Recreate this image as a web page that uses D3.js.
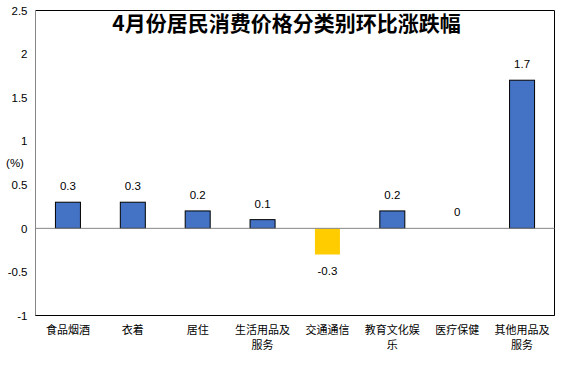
<!DOCTYPE html>
<html><head><meta charset="utf-8">
<script src="https://cdn.jsdelivr.net/npm/d3@7/dist/d3.min.js"></script>
<style>body{margin:0;background:#fff}svg{display:block}</style>
</head><body>
<script>
const categories = ["食品烟酒","衣着","居住","生活用品及服务","交通通信","教育文化娱乐","医疗保健","其他用品及服务"];
const categoryLines = [["食品烟酒"],["衣着"],["居住"],["生活用品及","服务"],["交通通信"],["教育文化娱","乐"],["医疗保健"],["其他用品及","服务"]];
const values = [0.3,0.3,0.2,0.1,-0.3,0.2,0,1.7];
const valueLabels = ["0.3","0.3","0.2","0.1","-0.3","0.2","0","1.7"];
const yTicks = [-1,-0.5,0,0.5,1,1.5,2,2.5];
const yTickLabels = ["-1","-0.5","0","0.5","1","1.5","2","2.5"];
const title = "4月份居民消费价格分类别环比涨跌幅";
const unitLabel = "(%)";

const W=574,H=374;
const L=35.5,R=554.5,T=10.5,B=315.5;
const svg=d3.select("body").append("svg").attr("width",W).attr("height",H);
const x=d3.scaleBand().domain(categories).range([L,R]).padding(0);
const y=d3.scaleLinear().domain([-1,2.5]).range([B,T]);
const bw=25;
const font="'Liberation Sans', Arial, sans-serif";
const cjk="'Noto Sans CJK SC', sans-serif";

// frame
svg.append("path").attr("d",`M${L},${T}H${R}V${B}H${L}`).attr("fill","none").attr("stroke","#000").attr("stroke-width",1);
svg.append("line").attr("x1",L).attr("x2",L).attr("y1",T).attr("y2",B).attr("stroke","#868686");

// y axis
const yAxis=d3.axisLeft(y).tickValues(yTicks).tickFormat((d,i)=>yTickLabels[i]).tickSize(0).tickPadding(8);
const ya=svg.append("g").attr("transform",`translate(${L},0)`).call(yAxis);
ya.select(".domain").remove();
ya.selectAll("text").attr("font-family",font).attr("font-size",11.5).attr("fill","#000");

svg.append("text").attr("x",15).attr("y",167).attr("text-anchor","middle").attr("font-family",font).attr("font-size",11.5).text(unitLabel);

// bars
svg.selectAll("rect.bar").data(values).join("rect")
  .attr("x",(d,i)=>x(categories[i])+x.bandwidth()/2-bw/2)
  .attr("width",bw)
  .attr("y",d=>y(Math.max(0,d)))
  .attr("height",d=>Math.abs(y(d)-y(0)))
  .attr("fill",d=>d<0?"#FFCC00":"#4472C4")
  .attr("stroke",d=>d<0?"none":"#000")
  .attr("stroke-width",1);

// zero line
svg.append("line").attr("x1",L).attr("x2",R).attr("y1",y(0)).attr("y2",y(0)).attr("stroke","#868686");
svg.append("line").attr("x1",L).attr("x2",R).attr("y1",B).attr("y2",B).attr("stroke","#000");

// value labels
svg.selectAll("text.val").data(values).join("text")
  .attr("x",(d,i)=>x(categories[i])+x.bandwidth()/2)
  .attr("y",d=>d<0?y(d)+20:y(d)-12)
  .attr("text-anchor","middle").attr("font-family",font).attr("font-size",11.5)
  .text((d,i)=>valueLabels[i]);

// category labels (one text element per category, wrapped with tspans)
const ct=svg.selectAll("text.cat").data(categoryLines).join("text")
  .attr("class","cat")
  .attr("x",(d,i)=>x(categories[i])+x.bandwidth()/2)
  .attr("y",333.5).attr("text-anchor","middle")
  .attr("font-family",cjk).attr("font-size",11).attr("fill","#000");
ct.each(function(lines,i){
  const cx=x(categories[i])+x.bandwidth()/2;
  d3.select(this).selectAll("tspan").data(lines).join("tspan")
    .attr("x",cx).attr("dy",(d,j)=>j===0?0:15.5).text(d=>d);
});

// title
svg.append("text").attr("x",286.5).attr("y",31).attr("text-anchor","middle")
  .attr("font-family",cjk).attr("font-weight","bold").attr("font-size",21).text(title);
</script>
</body></html>
